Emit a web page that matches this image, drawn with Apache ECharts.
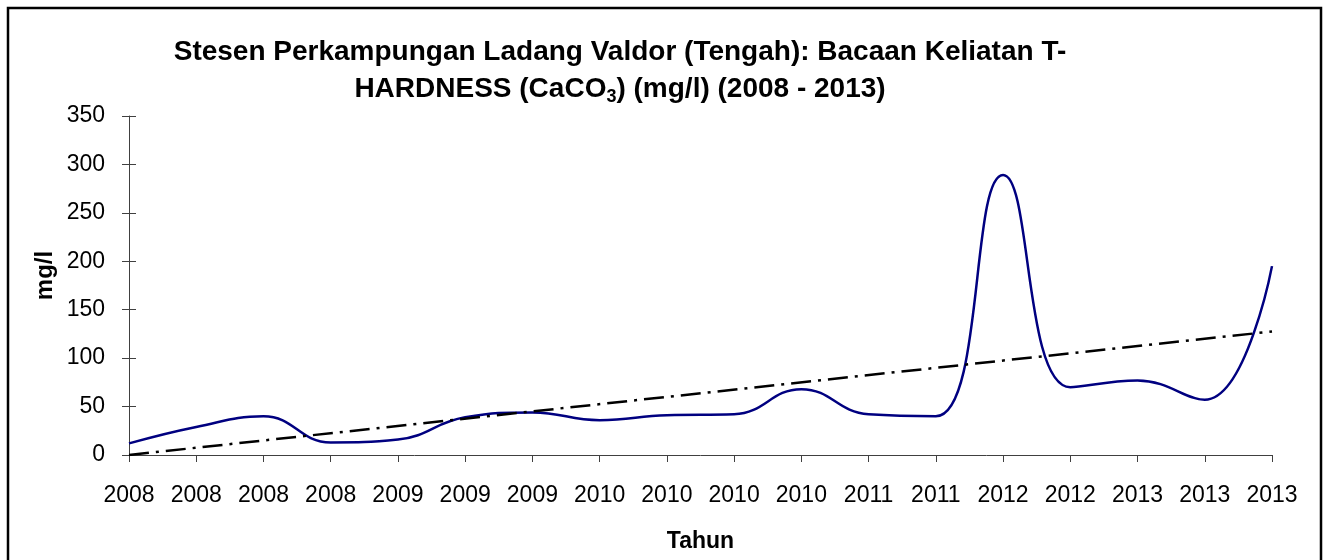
<!DOCTYPE html>
<html>
<head>
<meta charset="utf-8">
<script src="https://cdn.jsdelivr.net/npm/echarts@6/dist/echarts.min.js"></script>
<style>
  html, body { margin: 0; padding: 0; background: #fff; }
  #chart { width: 1328px; height: 560px; }
</style>
</head>
<body>
<div id="chart"></div>
<script>
const years = ['2008', '2008', '2008', '2008', '2009', '2009', '2009', '2010', '2010', '2010',
  '2010', '2011', '2011', '2012', '2012', '2013', '2013', '2013'];
const hardness = [12, 29, 40, 13, 16, 39, 44, 36, 41, 42, 68, 42, 40, 289, 70, 77, 57, 195];
const trendPoints = [[0, 0], [17, 127.5]];
const yTicks = { min: 0, max: 350, interval: 50 };

const FONT = '"Liberation Sans", Arial, sans-serif';
const chart = echarts.init(document.getElementById('chart'));

const option = {
  backgroundColor: '#fff',
  animation: false,
  textStyle: { fontFamily: FONT },
  grid: { left: 129, right: 56, top: 116, bottom: 105, containLabel: false, outerBoundsMode: 'none' },
  graphic: [
    {
      type: 'rect',
      shape: { x: 8, y: 8, width: 1313, height: 570 },
      style: { fill: 'none', stroke: '#000', lineWidth: 2.5 },
      silent: true
    },
    {
      type: 'text',
      x: 620, y: 34,
      style: {
        text: '{b|Stesen Perkampungan Ladang Valdor (Tengah): Bacaan Keliatan T-}\n' +
              '{b|HARDNESS (CaCO}{s|3}{b|) (mg/l) (2008 - 2013)}',
        align: 'center',
        fontFamily: FONT,
        rich: {
          b: { fontSize: 28, fontWeight: 'bold', fontFamily: FONT, lineHeight: 37, color: '#000' },
          s: { fontSize: 18, fontWeight: 'bold', fontFamily: FONT, lineHeight: 37, padding: [15, 0, 0, 0], color: '#000' }
        }
      }
    }
  ],
  xAxis: {
    type: 'category',
    data: years,
    boundaryGap: false,
    name: 'Tahun',
    nameLocation: 'middle',
    nameGap: 75,
    nameMoveOverlap: false,
    nameTextStyle: { fontSize: 23, fontWeight: 'bold', color: '#000', fontFamily: FONT },
    axisLine: { lineStyle: { color: '#404040', width: 1 } },
    axisTick: { show: true, length: 7, alignWithLabel: true, lineStyle: { color: '#404040' } },
    axisLabel: { fontSize: 23, color: '#000', margin: 29, interval: 0, fontFamily: FONT },
    splitLine: { show: false }
  },
  yAxis: [
    {
      type: 'value',
      min: yTicks.min, max: yTicks.max, interval: yTicks.interval,
      name: 'mg/l',
      nameLocation: 'middle',
      nameGap: 72,
      nameMoveOverlap: false,
      nameRotate: 90,
      nameTextStyle: { fontSize: 24, fontWeight: 'bold', color: '#000', fontFamily: FONT, padding: [0, 0, 0, 20] },
      axisLine: { show: true, lineStyle: { color: '#404040', width: 1 } },
      axisTick: { show: true, length: 7, lineStyle: { color: '#404040' } },
      axisLabel: { fontSize: 23, color: '#000', margin: 24, fontFamily: FONT },
      splitLine: { show: false }
    },
    {
      type: 'value',
      position: 'left',
      min: yTicks.min, max: yTicks.max, interval: yTicks.interval,
      axisLine: { show: false },
      axisTick: { show: true, inside: true, length: 7, lineStyle: { color: '#404040' } },
      axisLabel: { show: false },
      splitLine: { show: false }
    }
  ],
  series: [
    {
      name: 'T-HARDNESS',
      type: 'line',
      data: hardness,
      smooth: 0.45,
      showSymbol: false,
      lineStyle: { color: '#000080', width: 2.5 },
      z: 3
    },
    {
      name: 'Trend',
      type: 'line',
      data: trendPoints,
      showSymbol: false,
      lineStyle: { color: '#000', width: 2.5, type: [20, 7, 3, 7] },
      z: 4
    }
  ]
};

chart.setOption(option);
</script>
</body>
</html>
